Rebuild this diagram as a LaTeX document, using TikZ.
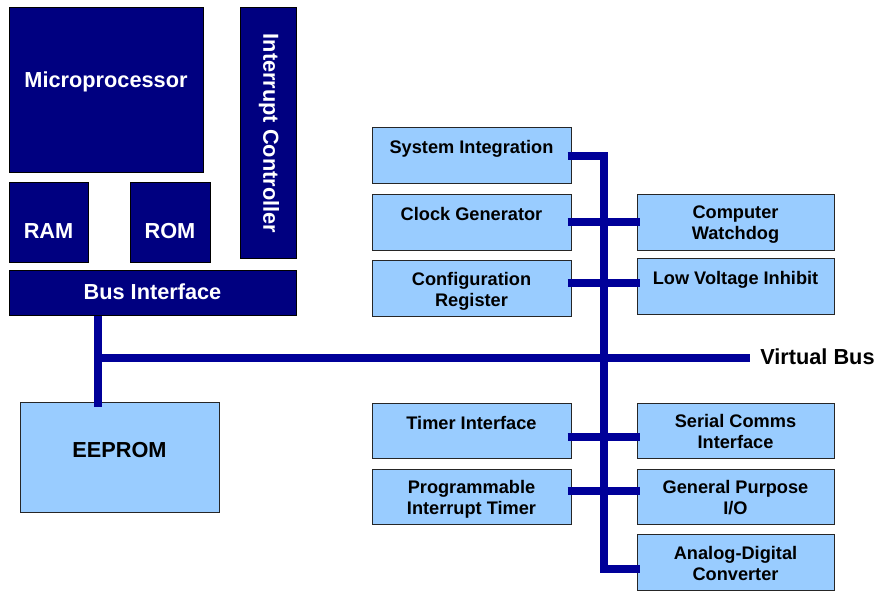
\documentclass[tikz,border=0pt]{standalone}
\usepackage{fontspec}
\setmainfont{Liberation Sans}
\definecolor{navybox}{RGB}{0,0,128}
\definecolor{busblue}{RGB}{0,0,153}
\definecolor{paleblue}{RGB}{153,204,255}
\begin{document}
\begin{tikzpicture}[
        x=0.75pt, y=-0.75pt,
        darkbox/.style={rectangle, draw=black, fill=navybox, line width=0.75pt, inner sep=0pt, outer sep=0pt},
        lightbox/.style={rectangle, draw=black!85, fill=paleblue, line width=0.75pt, inner sep=0pt, outer sep=0pt, minimum height=41.5pt},
        bigtext/.style={font=\fontsize{16.3}{19}\selectfont\bfseries, inner sep=0pt},
        darktext/.style={bigtext, text=white, anchor=base},
        boxtext/.style={font=\fontsize{13.65}{15.75}\selectfont\bfseries, align=center, anchor=north, inner sep=0pt, execute at begin node=\strut},
        bus/.style={line width=6pt, draw=busblue},
        stub/.style={bus, shorten <=-2.5pt, shorten >=-2.5pt}
    ]
        \useasboundingbox (0,0) rectangle (875,591);

        % processor core
        \node[darkbox, minimum width=145.5pt, minimum height=123.75pt] (micro) at (106,90.5) {};
        \node[darkbox, minimum width=59.25pt, minimum height=60pt] (ram) at (48.5,223) {};
        \node[darkbox, minimum width=60pt, minimum height=60pt] (rom) at (170,223) {};
        \node[darkbox, minimum width=42pt, minimum height=188.25pt] (intctl) at (268,133.5) {};
        \node[darkbox, minimum width=215.25pt, minimum height=33.75pt] (busif) at (152.5,293.5) {};
        \node[lightbox, minimum width=149.25pt, minimum height=82.5pt] (eeprom) at (119.5,458) {};

        % peripherals
        \node[lightbox, minimum width=149.25pt] (sysint) at (471.5,155.5) {};
        \node[lightbox, minimum width=149.25pt] (clkgen) at (471.5,222.5) {};
        \node[lightbox, minimum width=149.25pt] (cfgreg) at (471.5,288.5) {};
        \node[lightbox, minimum width=149.25pt] (timerif) at (471.5,431) {};
        \node[lightbox, minimum width=149.25pt] (pit) at (471.5,497) {};
        \node[lightbox, minimum width=147.75pt] (watchdog) at (735.5,222.5) {};
        \node[lightbox, minimum width=147.75pt] (lvi) at (735.5,286.5) {};
        \node[lightbox, minimum width=147.75pt] (sci) at (735.5,431) {};
        \node[lightbox, minimum width=147.75pt] (gpio) at (735.5,497) {};
        \node[lightbox, minimum width=147.75pt] (adc) at (735.5,562.5) {};

        % buses
        \coordinate (vtop) at (604,156);
        \coordinate (vbot) at (604,569);
        \coordinate (vbl) at (97.5,358.5);
        \draw[stub] (sysint.east |- vtop) -| (vbot) -- (adc.west |- vbot);
        \draw[stub] (clkgen.east |- 0,222) -- (watchdog.west |- 0,222);
        \draw[stub] (cfgreg.east |- 0,283) -- (lvi.west |- 0,283);
        \draw[stub] (timerif.east |- 0,437) -- (sci.west |- 0,437);
        \draw[stub] (pit.east |- 0,491.5) -- (gpio.west |- 0,491.5);
        \draw[bus] (busif.south -| vbl) -- ([yshift=-3pt]eeprom.north -| vbl);

        % labels
        \node[darktext] (micro-t) at (106,87.3) {Microprocessor};
        \node[darktext] (ram-t) at (48.5,238.3) {RAM};
        \node[darktext] (rom-t) at (170,238.3) {ROM};
        \node[bigtext, text=white, rotate=-90] (intctl-t) at (269,133.5) {Interrupt Controller};
        \node[darktext] (busif-t) at (152.5,300) {Bus Interface};
        \node[bigtext, anchor=base] (eeprom-t) at (119.5,457.3) {EEPROM};
        \node[bigtext, anchor=base west] (vbus-t) at (760,365) {Virtual Bus};
        \draw[bus, shorten >=7.5pt] (vbl) -- (vbus-t.west |- vbl);

        \node[boxtext] (sysint-t) at ([yshift=-8.2pt]sysint.north) {System Integration};
        \node[boxtext] (clkgen-t) at ([yshift=-8.2pt]clkgen.north) {Clock Generator};
        \node[boxtext] (cfgreg-t) at ([yshift=-8.2pt]cfgreg.north) {Configuration\\Register};
        \node[boxtext] (timerif-t) at ([yshift=-8.2pt]timerif.north) {Timer Interface};
        \node[boxtext] (pit-t) at ([yshift=-8.2pt]pit.north) {Programmable\\Interrupt Timer};
        \node[boxtext] (watchdog-t) at ([yshift=-8.2pt]watchdog.north) {Computer\\Watchdog};
        \node[boxtext] (lvi-t) at ([yshift=-8.2pt]lvi.north) {Low Voltage Inhibit};
        \node[boxtext] (sci-t) at ([yshift=-8.2pt]sci.north) {Serial Comms\\Interface};
        \node[boxtext] (gpio-t) at ([yshift=-8.2pt]gpio.north) {General Purpose\\I/O};
        \node[boxtext] (adc-t) at ([yshift=-8.2pt]adc.north) {Analog-Digital\\Converter};
    \end{tikzpicture}
\end{document}
